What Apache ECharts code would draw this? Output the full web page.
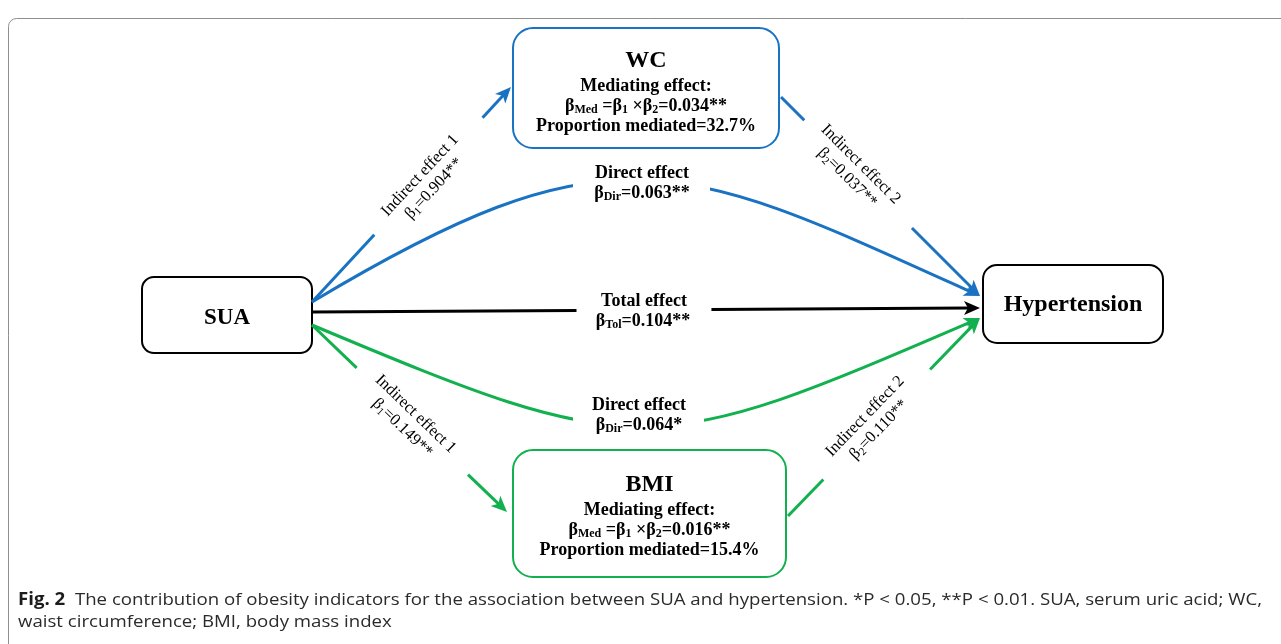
<!DOCTYPE html>
<html>
<head>
<meta charset="utf-8">
<script src="https://cdn.jsdelivr.net/npm/echarts@6/dist/echarts.min.js"></script>
<style>
  html, body { margin: 0; padding: 0; background: #fff; }
  #main { width: 1281px; height: 644px; }
</style>
</head>
<body>
<div id="main"></div>
<script>
// ---- model content ----
const exposure = 'SUA';
const outcome = 'Hypertension';
const mediators = ['WC', 'BMI'];
const beta1 = ['0.904**', '0.149**'];        // SUA -> mediator
const beta2 = ['0.037**', '0.110**'];        // mediator -> hypertension
const mediatingEffect = ['0.034**', '0.016**'];
const proportionMediated = ['32.7%', '15.4%'];
const directEffect = ['0.063**', '0.064*'];
const totalEffect = '0.104**';
const captionHead = 'Fig. 2';
const captionLines = [
  '  The contribution of obesity indicators for the association between SUA and hypertension. *P < 0.05, **P < 0.01. SUA, serum uric acid; WC,',
  'waist circumference; BMI, body mass index'
];

// ---- styling ----
const SERIF = '"Liberation Serif", "Times New Roman", serif';
const SANS = '"Open Sans", "Noto Sans", sans-serif';
const BLUE = '#1a73c2';
const GREEN = '#12b04e';
const BLACK = '#000000';
const pathColors = [BLUE, GREEN];

const chart = echarts.init(document.getElementById('main'), null, { renderer: 'canvas' });
const els = [];

function lerp(a, b, t) { return [a[0] + (b[0] - a[0]) * t, a[1] + (b[1] - a[1]) * t]; }

function seg(a, b, color, z) {
  els.push({ type: 'line', z: z || 5, shape: { x1: a[0], y1: a[1], x2: b[0], y2: b[1] },
    style: { stroke: color, lineWidth: 3, lineCap: 'butt' } });
}

function arrowHead(tip, from, color) {
  const dx = tip[0] - from[0], dy = tip[1] - from[1];
  const len = Math.hypot(dx, dy);
  const ux = dx / len, uy = dy / len;
  const L = 16, hw = 7;
  const bx = tip[0] - ux * L, by = tip[1] - uy * L;
  els.push({ type: 'polygon', z: 6, shape: { points: [
      tip, [bx - uy * hw, by + ux * hw], [tip[0] - ux * (L - 4), tip[1] - uy * (L - 4)], [bx + uy * hw, by - ux * hw]
    ] }, style: { fill: color } });
  return [tip[0] - ux * (L - 5), tip[1] - uy * (L - 5)];
}

// straight arrow with a gap [g0, g1] left open for its label
function gappedArrow(p0, p1, gap, color) {
  const end = arrowHead(p1, p0, color);
  seg(p0, lerp(p0, p1, gap[0]), color);
  seg(lerp(p0, p1, gap[1]), end, color);
}

function curvedArrow(p0, c1, c2, p3, color) {
  const end = arrowHead(p3, c2, color);
  els.push({ type: 'bezierCurve', z: 5, shape: {
      x1: p0[0], y1: p0[1], cpx1: c1[0], cpy1: c1[1], cpx2: c2[0], cpy2: c2[1], x2: end[0], y2: end[1] },
    style: { stroke: color, lineWidth: 3, fill: null } });
}

function box(x, y, w, h, r, color) {
  els.push({ type: 'rect', z: 4, shape: { x: x, y: y, width: w, height: h, r: r },
    style: { fill: '#fff', stroke: color, lineWidth: 2 } });
}

function text(x, y, str, opts) {
  els.push({ type: 'text', z: 10, x: x, y: y, rotation: opts.rotation || 0,
    style: Object.assign({ text: str, fill: '#000', align: 'center', verticalAlign: 'middle',
      font: opts.font || ('bold 18px ' + SERIF) }, opts.style || {}) });
}

function cover(x, y, w, h) {
  els.push({ type: 'rect', z: 7, shape: { x: x, y: y, width: w, height: h }, style: { fill: '#fff' } });
}

const boldRich = (size) => ({
  b: { fontFamily: SERIF, fontWeight: 'bold', fontSize: size, lineHeight: 20 },
  s: { fontFamily: SERIF, fontWeight: 'bold', fontSize: 12, lineHeight: 12, verticalAlign: 'bottom' }
});
const regRich = {
  r: { fontFamily: SERIF, fontSize: 16.5, lineHeight: 19 },
  s: { fontFamily: SERIF, fontSize: 11, lineHeight: 11, verticalAlign: 'bottom' }
};

// outer frame
els.push({ type: 'rect', z: 1, shape: { x: 8.5, y: 18.5, width: 1300, height: 660, r: 8 },
  style: { fill: '#fff', stroke: '#8f8f8f', lineWidth: 1 } });

// ---- paths ----
// SUA -> WC, WC -> hypertension
gappedArrow([312, 302], [511, 87], [0.313, 0.857], BLUE);
gappedArrow([781, 97], [980, 296], [0.117, 0.658], BLUE);
// SUA -> BMI, BMI -> hypertension
gappedArrow([312, 325], [507, 512], [0.229, 0.80], GREEN);
gappedArrow([788, 516], [980, 318], [0.184, 0.74], GREEN);
// total effect
gappedArrow([312, 312], [980, 308], [0.396, 0.598], BLACK);
// direct effects
curvedArrow([312, 302], [612, 122], [680, 160], [980, 296], BLUE);
curvedArrow([312, 325], [640, 463], [652, 459], [980, 318], GREEN);
cover(573, 160, 137, 45);
cover(573, 394, 131, 44);

// ---- nodes ----
box(142, 277, 170, 76, 12, BLACK);
text(227, 318, exposure, { font: 'bold 23px ' + SERIF });
box(983, 265, 180, 78, 14, BLACK);
text(1073, 305, outcome, { font: 'bold 24px ' + SERIF });

const medBoxes = [[513, 28, 266, 120], [513, 450, 273, 127]];
const medTitleY = [61, 485];
medBoxes.forEach((b, i) => {
  box(b[0], b[1], b[2], b[3], 20, pathColors[i]);
  const cx = b[0] + b[2] / 2;
  const y0 = medTitleY[i];
  text(cx, y0, mediators[i], { font: 'bold 24px ' + SERIF });
  text(cx, y0 + 25, 'Mediating effect:', {});
  text(cx, y0 + 45, '{b|β}{s|Med}{b| =β}{s|1}{b| ×β}{s|2}{b|=' + mediatingEffect[i] + '}',
    { style: { rich: boldRich(18) } });
  text(cx, y0 + 65, 'Proportion mediated=' + proportionMediated[i], {});
});

// ---- effect labels ----
const indirectPos = [
  [[427, 182, 47], [854, 171, -45]],
  [[409, 421, -44], [872, 423, 46]]
];
indirectPos.forEach((pair, i) => {
  [beta1[i], beta2[i]].forEach((v, k) => {
    const p = pair[k];
    text(p[0], p[1], '{r|Indirect effect ' + (k + 1) + '}\n{r|β}{s|' + (k + 1) + '}{r|=' + v + '}',
      { rotation: p[2] * Math.PI / 180, style: { rich: regRich } });
  });
});

const directPos = [[642, 183], [639, 415]];
directPos.forEach((p, i) => {
  text(p[0], p[1] - 10, 'Direct effect', {});
  text(p[0], p[1] + 10, '{b|β}{s|Dir}{b|=' + directEffect[i] + '}', { style: { rich: boldRich(18) } });
});
text(644, 301, 'Total effect', {});
text(643, 321, '{b|β}{s|Tol}{b|=' + totalEffect + '}', { style: { rich: boldRich(18) } });

// ---- caption ----
const capSize = 17;
const meas = document.createElement('canvas').getContext('2d');
meas.font = 'bold ' + capSize + 'px ' + SANS;
let capWidth = meas.measureText(captionHead).width;
meas.font = capSize + 'px ' + SANS;
capWidth += meas.measureText(captionLines[0]).width;
const capScale = 1244 / capWidth;   // first caption line runs from x=18 to the right margin

els.push({ type: 'text', z: 10, x: 18, y: 589, scaleX: capScale, style: {
  text: '{h|' + captionHead + '}{c|' + captionLines[0] + '}\n{c|' + captionLines[1] + '}',
  align: 'left', verticalAlign: 'top',
  rich: {
    h: { fontFamily: SANS, fontWeight: 'bold', fontSize: capSize, lineHeight: 22, fill: '#1c1c1c' },
    c: { fontFamily: SANS, fontSize: capSize, lineHeight: 22, fill: '#2a2a2a' }
  } } });

chart.setOption({ animation: false, backgroundColor: '#fff', graphic: { elements: els } });
</script>
</body>
</html>
